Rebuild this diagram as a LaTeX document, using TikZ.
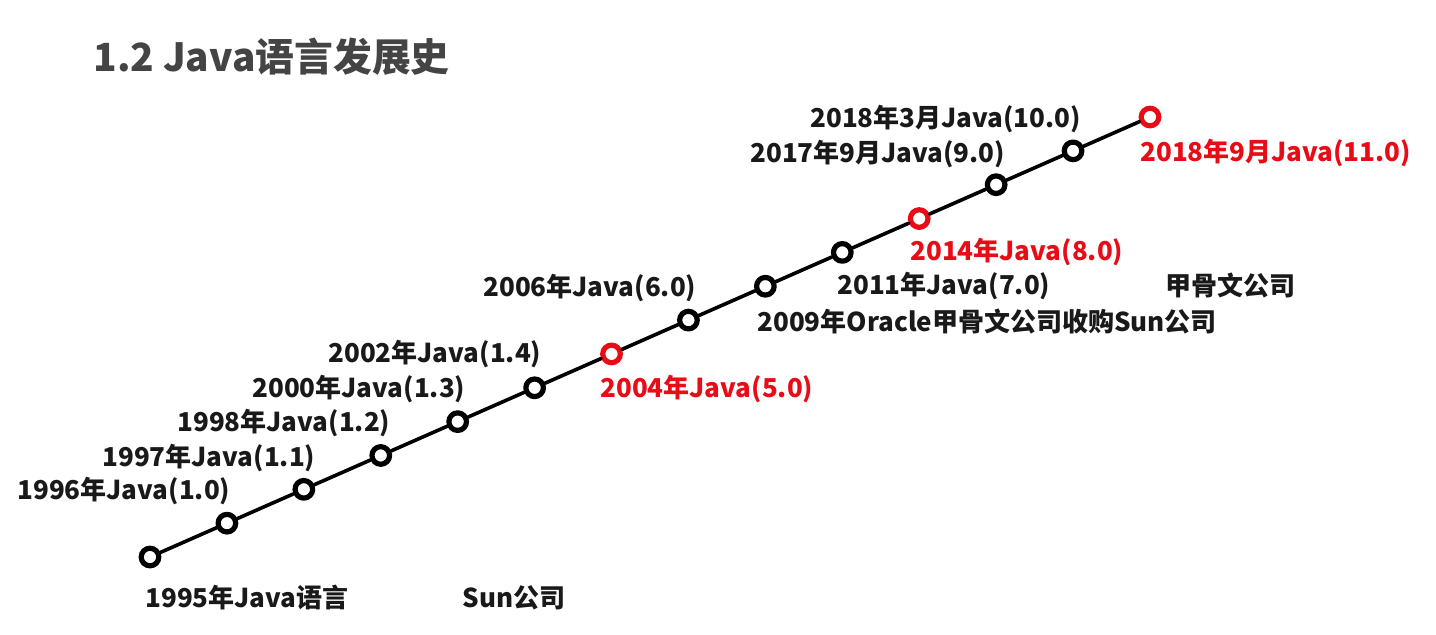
\documentclass[tikz,border=0pt]{standalone}
\usepackage{fontspec}
\setmainfont{Noto Sans CJK SC}
\usetikzlibrary{calc}
\definecolor{javared}{RGB}{232,12,22}
\definecolor{titlegray}{RGB}{68,68,68}

\begin{document}
\begin{tikzpicture}[x=0.5pt,y=-0.5pt,line cap=round,line join=round,
    ring/.style={circle,draw=black,fill=white,line width=2.6pt,minimum size=8.8pt,inner sep=0pt},
    redring/.style={ring,draw=javared},
    track/.style={line width=1.8pt},
    yearlabel/.style={anchor=west,inner sep=0pt,text=black!90,font=\fontsize{13}{15}\selectfont\bfseries},
    redlabel/.style={yearlabel,text=javared}]

        \useasboundingbox (0,0) rectangle (1436,634);

        % --- Title ---
        \node[anchor=west,inner sep=0pt,text=titlegray,font=\fontsize{19.4}{23}\selectfont\bfseries] (title) at (93,57) {1.2 Java语言发展史};

        % --- Variables ---
        \coordinate (start) at (150,557);
        \coordinate (end) at (1150,117);

        % Version rings along the line
        \node[ring] (c0) at (start) {};
        \node[ring] (c1) at ($(start)!1/13!(end)$) {};
        \node[ring] (c2) at ($(start)!2/13!(end)$) {};
        \node[ring] (c3) at ($(start)!3/13!(end)$) {};
        \node[ring] (c4) at ($(start)!4/13!(end)$) {};
        \node[ring] (c5) at ($(start)!5/13!(end)$) {};
        \node[redring] (c6) at ($(start)!6/13!(end)$) {};
        \node[ring] (c7) at ($(start)!7/13!(end)$) {};
        \node[ring] (c8) at ($(start)!8/13!(end)$) {};
        \node[ring] (c9) at ($(start)!9/13!(end)$) {};
        \node[redring] (c10) at ($(start)!10/13!(end)$) {};
        \node[ring] (c11) at ($(start)!11/13!(end)$) {};
        \node[ring] (c12) at ($(start)!12/13!(end)$) {};
        \node[redring] (c13) at (end) {};

        % Time line
        \draw[track] (c0) -- (c1) -- (c2) -- (c3) -- (c4) -- (c5) -- (c6) -- (c7)
            -- (c8) -- (c9) -- (c10) -- (c11) -- (c12) -- (c13);

        % --- Labels ---
        \node[yearlabel] (l1995) at (145,598) {1995年Java语言};
        \node[yearlabel] (lsun) at (462,598) {Sun公司};
        \node[yearlabel] (l1996) at (17,491) {1996年Java(1.0)};
        \node[yearlabel] (l1997) at (102,458) {1997年Java(1.1)};
        \node[yearlabel] (l1998) at (177,423) {1998年Java(1.2)};
        \node[yearlabel] (l2000) at (252,389) {2000年Java(1.3)};
        \node[yearlabel] (l2002) at (328,354) {2002年Java(1.4)};
        \node[redlabel] (l2004) at (600,389) {2004年Java(5.0)};
        \node[yearlabel] (l2006) at (483,288) {2006年Java(6.0)};
        \node[yearlabel] (l2009) at (757,322) {2009年Oracle甲骨文公司收购Sun公司};
        \node[yearlabel] (l2011) at (837,286) {2011年Java(7.0)};
        \node[yearlabel] (loracle) at (1165,286) {甲骨文公司};
        \node[redlabel] (l2014) at (910,252) {2014年Java(8.0)};
        \node[yearlabel] (l2017) at (750,154) {2017年9月Java(9.0)};
        \node[yearlabel] (l2018a) at (810,119) {2018年3月Java(10.0)};
        \node[redlabel] (l2018b) at (1140,153) {2018年9月Java(11.0)};

    \end{tikzpicture}
\end{document}
